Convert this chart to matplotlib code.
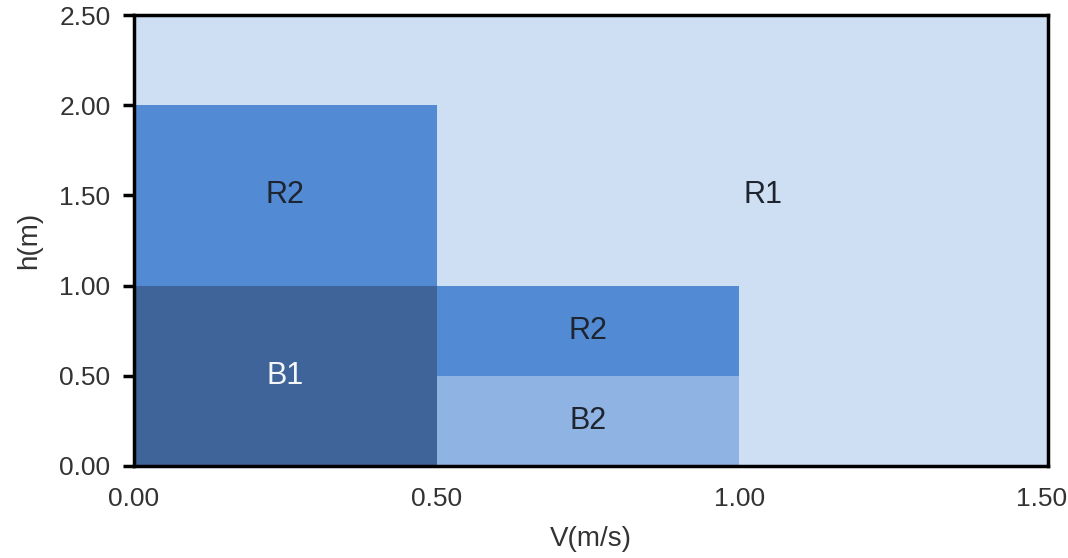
import matplotlib
matplotlib.use("Agg")
import matplotlib.pyplot as plt

plt.rcParams['font.family'] = ['Liberation Sans', 'DejaVu Sans']

# zones: name, x0, x1, y0, y1
names = ["R1", "R2", "B1", "R2", "B2"]
x0 = [0.0, 0.0, 0.0, 0.5, 0.5]
x1 = [1.51, 0.5, 0.5, 1.0, 1.0]
y0 = [0.0, 1.0, 0.0, 0.5, 0.0]
y1 = [2.5, 2.0, 1.0, 1.0, 0.5]
label_x = [1.04, 0.25, 0.25, 0.75, 0.75]
label_y = [1.5, 1.5, 0.5, 0.75, 0.25]

colors = ["#CFDFF3", "#528BD3", "#3F6499", "#528BD3", "#8FB3E2"]
text_colors = ["#1E2430", "#1E2430", "#F4F6FA", "#1E2430", "#1E2430"]

fig = plt.figure(figsize=(10.68, 5.58), dpi=100)
ax = fig.add_axes([0.1255, 0.165, 0.8555, 0.808])

for i in range(len(names)):
    ax.bar(x0[i], y1[i] - y0[i], width=x1[i] - x0[i], bottom=y0[i],
           align='edge', color=colors[i], linewidth=0)
    ax.text(label_x[i], label_y[i], names[i], ha='center', va='center',
            fontsize=22, color=text_colors[i])

ax.set_xlim(0, 1.51)
ax.set_ylim(0, 2.5)
ax.set_xticks([0, 0.5, 1.0, 1.5])
ax.set_yticks([0, 0.5, 1.0, 1.5, 2.0, 2.5])
ax.set_xticklabels(["0.00", "0.50", "1.00", "1.50"])
ax.set_yticklabels(["0.00", "0.50", "1.00", "1.50", "2.00", "2.50"])
ax.tick_params(axis='x', length=0, pad=15, labelsize=19, labelcolor='#333333')
ax.tick_params(axis='y', length=8, width=2.5, pad=9, labelsize=19, labelcolor='#333333')
for s in ax.spines.values():
    s.set_linewidth(2.5)
    s.set_color('black')

ax.set_xlabel("V(m/s)", fontsize=20, color='#333333', labelpad=11)
ax.set_ylabel("h(m)", fontsize=20, color='#333333', labelpad=12)

fig.savefig("out.png", dpi=100)
